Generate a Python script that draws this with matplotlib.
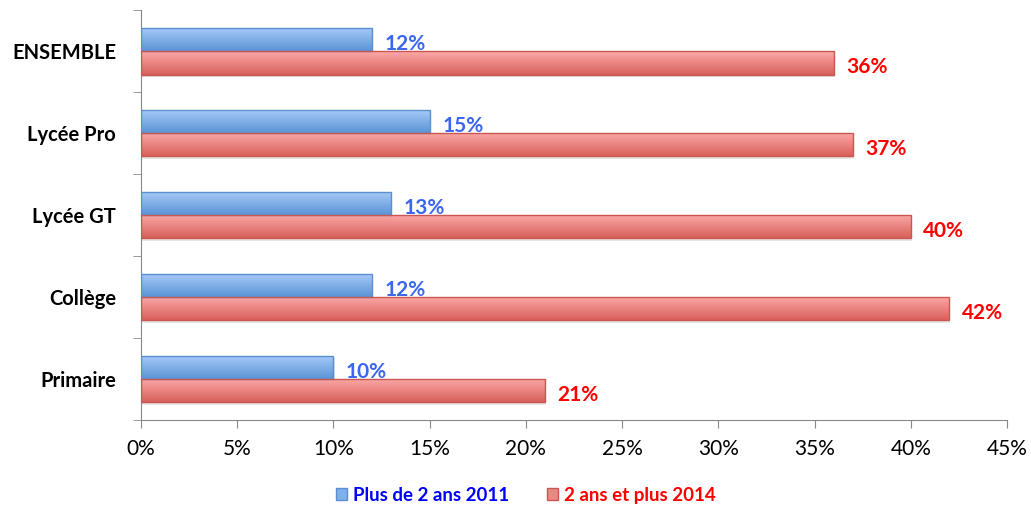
import matplotlib
matplotlib.use("Agg")
import matplotlib.pyplot as plt
import numpy as np
from matplotlib.colors import LinearSegmentedColormap
from matplotlib.patches import Patch
from matplotlib.ticker import FuncFormatter

plt.rcParams['font.family'] = ['Lato', 'DejaVu Sans']

categories = ["ENSEMBLE", "Lycée Pro", "Lycée GT", "Collège", "Primaire"]
val_2011 = [12, 15, 13, 12, 10]
val_2014 = [36, 37, 40, 42, 21]
series_names = ["Plus de 2 ans 2011", "2 ans et plus 2014"]
xticks = [0, 5, 10, 15, 20, 25, 30, 35, 40, 45]

fig = plt.figure(figsize=(10.31, 5.08), dpi=100)
ax = fig.add_axes([0.1368, 0.1732, 0.8399, 0.8068])

h = 0.285
y = np.arange(len(categories))

blue_cmap = LinearSegmentedColormap.from_list("b", ["#a9cbf7", "#5a94d6"])
red_cmap = LinearSegmentedColormap.from_list("r", ["#fbaaa8", "#d8605b"])
grad = np.linspace(0, 1, 64).reshape(-1, 1)

b1 = ax.barh(y - h / 2, val_2011, height=h, color="none", edgecolor="#5b8fd0", linewidth=1.0, zorder=3)
b2 = ax.barh(y + h / 2, val_2014, height=h, color="none", edgecolor="#c9564f", linewidth=1.0, zorder=3)

for bars, cmap in ((b1, blue_cmap), (b2, red_cmap)):
    for p in bars:
        x0, y0 = p.get_x(), p.get_y()
        w, hh = p.get_width(), p.get_height()
        ax.add_patch(plt.Rectangle((x0 + 0.06, y0 + 0.03), w, hh, color="#c8c8c8", alpha=0.45, zorder=1, lw=0))
        im = ax.imshow(grad, extent=(x0, x0 + w, y0 + hh, y0), origin="upper",
                       aspect="auto", cmap=cmap, zorder=2)
        im.set_clip_path(p)

for i in range(len(categories)):
    ax.annotate(f"{val_2011[i]}%", (val_2011[i], y[i] - h / 2), xytext=(9, -3),
                textcoords="offset points", va="center", ha="left",
                color="#3a66f2", fontsize=15, fontweight="bold")
    ax.annotate(f"{val_2014[i]}%", (val_2014[i], y[i] + h / 2), xytext=(9, -3),
                textcoords="offset points", va="center", ha="left",
                color="#ff0000", fontsize=15, fontweight="bold")

ax.set_xlim(0, 45)
ax.set_ylim(len(categories) - 0.5, -0.5)
ax.set_xticks(xticks)
ax.xaxis.set_major_formatter(FuncFormatter(lambda v, p: f"{int(v)}%"))
ax.set_yticks(y)
ax.set_yticklabels(categories, fontweight="bold", fontsize=14.5)
ax.set_yticks(np.arange(-0.5, len(categories), 1.0), minor=True)
ax.tick_params(axis="y", which="major", length=0, pad=18)
ax.tick_params(axis="y", which="minor", length=6, color="#888888", direction="out")
ax.tick_params(axis="x", length=6, color="#888888", direction="out", labelsize=15, pad=8)

for s in ("top", "right"):
    ax.spines[s].set_visible(False)
for s in ("left", "bottom"):
    ax.spines[s].set_color("#888888")

handles = [Patch(facecolor="#7eb0ea", edgecolor="#5b8fd0"),
           Patch(facecolor="#ec8884", edgecolor="#c9564f")]
leg = fig.legend(handles, series_names, loc="lower center", bbox_to_anchor=(0.51, -0.025),
                 ncol=2, frameon=False, prop={"weight": "bold", "size": 13.5},
                 handlelength=0.6, handleheight=0.6, handletextpad=0.3, columnspacing=2.0)
for t, c in zip(leg.get_texts(), ["#0000ff", "#ff0000"]):
    t.set_color(c)

fig.savefig("out.png", dpi=100)
